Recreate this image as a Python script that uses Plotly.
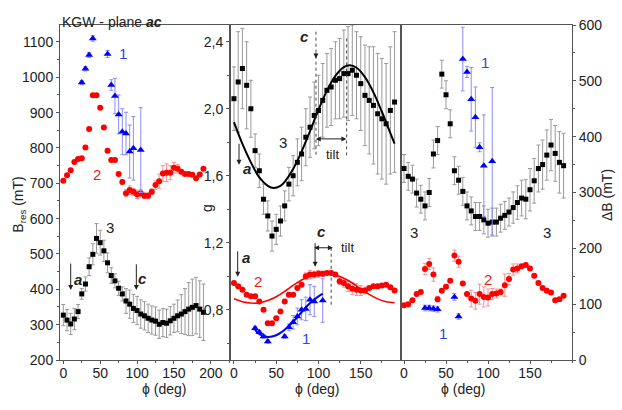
import plotly.graph_objects as go

# angles (deg)
phi = [0, 5, 10, 15, 20, 25, 30, 35, 40, 45, 50, 55, 60, 65, 70, 75, 80, 85, 90, 95,
       100, 105, 110, 115, 120, 125, 130, 135, 140, 145, 150, 155, 160, 165, 170, 175,
       180, 185, 190]
phi_1 = [25, 30, 35, 40, 60, 65, 70, 75, 80, 85, 90, 95, 105]

# panel 1: B_res (mT)
bres_1 = [985, 1024, 1063, 1110, 1066, 978, 947, 895, 846, 841, 790, 799, 794]
bres_1_err = [6, 6, 7, 8, 10, 15, 50, 55, 65, 60, 75, 90, 120]
bres_2 = [707, 723, 737, 760, 769, 771, 801, 854, 949, 949, 914, 858, 792, 766, 766, 726,
          704, 672, 681, 676, 669, 672, 665, 665, 676, 695, 706, 728, 730, 730, 744, 741,
          733, 726, 726, 724, 714, 725, 741]
bres_2_err = [4, 4, 4, 4, 4, 4, 4, 4, 4, 4, 4, 4, 4, 4, 4, 4, 6, 10, 12, 10, 12, 10, 8, 8,
              8, 12, 20, 22, 25, 20, 15, 12, 6, 4, 4, 4, 4, 4, 4]
bres_3 = [327, 313, 302, 316, 337, 387, 415, 464, 499, 544, 532, 509, 475, 439, 424, 403,
          387, 367, 358, 346, 340, 330, 325, 318, 313, 310, 301, 306, 304, 311, 318, 325,
          330, 337, 344, 349, 354, 344, 335]
bres_3_err = [30, 30, 30, 30, 20, 15, 20, 25, 30, 42, 35, 30, 28, 22, 20, 20, 20, 35, 40,
              40, 40, 40, 40, 40, 40, 40, 40, 40, 40, 40, 40, 45, 55, 65, 75, 80, 80, 80, 80]

# panel 2: g
g_1 = [0.69, 0.665, 0.64, 0.61, 0.64, 0.695, 0.725, 0.76, 0.80, 0.805, 0.86, 0.85, 0.855]
g_1_err = [0.01, 0.01, 0.01, 0.01, 0.01, 0.02, 0.04, 0.05, 0.06, 0.07, 0.09, 0.09, 0.13]
g_2 = [0.96, 0.94, 0.92, 0.89, 0.88, 0.88, 0.85, 0.80, 0.72, 0.72, 0.75, 0.79, 0.85, 0.89,
       0.89, 0.93, 0.95, 1.00, 1.01, 1.01, 1.015, 1.015, 1.02, 1.02, 1.01, 0.97, 0.96,
       0.94, 0.925, 0.92, 0.915, 0.915, 0.93, 0.94, 0.94, 0.945, 0.95, 0.935, 0.915]
g_2_err = [0.005, 0.005, 0.005, 0.005, 0.005, 0.005, 0.005, 0.005, 0.005, 0.005, 0.005,
           0.005, 0.005, 0.005, 0.005, 0.005, 0.005, 0.02, 0.025, 0.02, 0.02, 0.015, 0.01,
           0.005, 0.005, 0.02, 0.025, 0.03, 0.035, 0.035, 0.03, 0.02, 0.005, 0.005, 0.005,
           0.005, 0.005, 0.005, 0.005]
g_3 = [2.06, 2.16, 2.24, 2.14, 2.00, 1.75, 1.63, 1.46, 1.36, 1.24, 1.28, 1.33, 1.42, 1.55,
       1.60, 1.68, 1.73, 1.83, 1.89, 1.96, 1.99, 2.05, 2.11, 2.13, 2.17, 2.18, 2.21, 2.21,
       2.23, 2.20, 2.15, 2.08, 2.05, 2.02, 1.97, 1.94, 1.91, 1.99, 2.04]
g_3_err = [0.19, 0.30, 0.24, 0.26, 0.17, 0.10, 0.10, 0.09, 0.09, 0.09, 0.09, 0.09, 0.09,
           0.10, 0.12, 0.14, 0.16, 0.17, 0.18, 0.20, 0.21, 0.22, 0.22, 0.23, 0.23, 0.24,
           0.26, 0.28, 0.27, 0.26, 0.28, 0.30, 0.32, 0.35, 0.36, 0.36, 0.36, 0.38, 0.42]

# fitted curves
fit_1_phi = [25, 30, 35, 40, 45, 50, 55, 60, 70, 80, 90, 100, 105]
fit_1_g = [0.68, 0.655, 0.643, 0.638, 0.640, 0.648, 0.662, 0.68, 0.728, 0.785, 0.840,
           0.880, 0.896]
fit_2_phi = [0, 10, 20, 30, 40, 50, 60, 70, 80, 90, 100, 110, 120, 130, 140, 150, 160,
             170, 180, 190]
fit_2_g = [0.865, 0.848, 0.840, 0.841, 0.855, 0.878, 0.910, 0.945, 0.978, 1.002, 1.014,
           1.016, 1.008, 0.988, 0.960, 0.925, 0.892, 0.865, 0.848, 0.842]
fit_3_phi = [0, 10, 20, 30, 40, 47, 55, 60, 70, 80, 90, 100, 110, 120, 130, 137, 145, 155,
             165, 175, 185, 190]
fit_3_g = [1.92, 1.79, 1.68, 1.59, 1.54, 1.527, 1.54, 1.564, 1.64, 1.744, 1.867, 1.994,
           2.108, 2.196, 2.248, 2.259, 2.245, 2.189, 2.098, 1.982, 1.855, 1.792]

# panel 3: linewidth dB (mT)
db_1 = [93, 93, 92, 91, 113, 78, 539, 516, 467, 435, 381, 348, 356]
db_1_err = [5, 5, 5, 5, 6, 5, 57, 10, 57, 54, 8, 91, 132]
db_2 = [98, 100, 107, 118, 122, 163, 172, 153, 109, 124, 131, 142, 187, 176, 137, 118,
        110, 106, 118, 113, 112, 118, 119, 122, 134, 145, 162, 164, 168, 170, 164, 151,
        138, 129, 124, 121, 107, 109, 115]
db_2_err = [3, 3, 3, 3, 3, 10, 10, 12, 5, 3, 3, 3, 10, 10, 3, 3, 15, 15, 18, 18, 15, 10,
            8, 5, 20, 10, 10, 8, 3, 3, 3, 3, 3, 3, 3, 3, 3, 3, 3]
db_3 = [343, 329, 324, 299, 288, 276, 300, 369, 393, 512, 475, 423, 339, 322, 302, 276,
        267, 257, 257, 251, 245, 247, 247, 254, 259, 265, 273, 282, 290, 288, 305, 321,
        343, 350, 367, 385, 370, 354, 348]
db_3_err = [25, 25, 25, 25, 25, 25, 25, 25, 25, 25, 25, 25, 25, 25, 25, 25, 25, 25, 25,
            25, 25, 25, 25, 25, 25, 25, 28, 30, 32, 35, 38, 40, 42, 44, 45, 46, 50, 55, 58]

BLUE = '#0000ff'
RED = '#ff0000'
BLACK = '#000000'
FONT = 'Liberation Sans, Arial, sans-serif'


def pts(x, y, err, color, ecolor, symbol, size, xa, ya):
    return go.Scatter(x=x, y=y, mode='markers', xaxis=xa, yaxis=ya,
                      marker=dict(color=color, symbol=symbol, size=size),
                      error_y=dict(type='data', array=err, color=ecolor,
                                   thickness=1, width=2),
                      showlegend=False)


def fit(x, y, color, width, xa, ya):
    return go.Scatter(x=x, y=y, mode='lines', xaxis=xa, yaxis=ya,
                      line=dict(color=color, width=width, shape='spline'),
                      showlegend=False)


fig = go.Figure()
# panel 1
fig.add_trace(pts(phi, bres_3, bres_3_err, BLACK, '#999999', 'square', 5, 'x', 'y'))
fig.add_trace(pts(phi, bres_2, bres_2_err, RED, '#ff8c8c', 'circle', 6, 'x', 'y'))
fig.add_trace(pts(phi_1, bres_1, bres_1_err, BLUE, '#8c8cff', 'triangle-up', 7, 'x', 'y'))
# panel 2
fig.add_trace(pts(phi, g_3, g_3_err, BLACK, '#999999', 'square', 5, 'x2', 'y2'))
fig.add_trace(pts(phi, g_2, g_2_err, RED, '#ff8c8c', 'circle', 6, 'x2', 'y2'))
fig.add_trace(pts(phi_1, g_1, g_1_err, BLUE, '#8c8cff', 'triangle-up', 7, 'x2', 'y2'))
fig.add_trace(fit(fit_3_phi, fit_3_g, BLACK, 2, 'x2', 'y2'))
fig.add_trace(fit(fit_2_phi, fit_2_g, RED, 1.6, 'x2', 'y2'))
fig.add_trace(fit(fit_1_phi, fit_1_g, BLUE, 2, 'x2', 'y2'))
# panel 3
fig.add_trace(pts(phi, db_3, db_3_err, BLACK, '#999999', 'square', 5, 'x3', 'y3'))
fig.add_trace(pts(phi, db_2, db_2_err, RED, '#ff8c8c', 'circle', 6, 'x3', 'y3'))
fig.add_trace(pts(phi_1, db_1, db_1_err, BLUE, '#8c8cff', 'triangle-up', 7, 'x3', 'y3'))

ax_common = dict(showline=True, linecolor='#555555', linewidth=1, mirror=True,
                 ticks='outside', ticklen=3, tickcolor='#555555', showgrid=False,
                 zeroline=False, tickfont=dict(size=14, color='#222222'))
xminor = dict(ticklen=2, dtick=25, tickcolor='#555555', ticks='outside')

fig.update_layout(
    width=622, height=410,
    margin=dict(l=60, r=50, t=25, b=50),
    paper_bgcolor='white', plot_bgcolor='white',
    font=dict(family=FONT, size=14, color='#222222'),
    xaxis=dict(domain=[0, 0.332], range=[-4.5, 226], dtick=50, tick0=0,
               minor=xminor, anchor='y', ticklabelstandoff=-3, **ax_common),
    xaxis2=dict(domain=[0.332, 0.666], range=[-4.7, 197.6], dtick=50, tick0=0,
                minor=xminor, anchor='y2', ticklabelstandoff=-3, **ax_common),
    xaxis3=dict(domain=[0.666, 1], range=[-3.6, 200], tickvals=[0, 50, 100, 150],
                minor=xminor, anchor='y3', ticklabelstandoff=-3, **ax_common),
    yaxis=dict(range=[200, 1148], dtick=100, tick0=200, anchor='x',
               minor=dict(ticklen=2, dtick=50, tickcolor='#555555', ticks='outside'),
               **ax_common),
    yaxis2=dict(range=[0.5, 2.5], tickvals=[0.8, 1.2, 1.6, 2.0, 2.4],
                ticktext=['0,8', '1,2', '1,6', '2,0', '2,4'], anchor='x2',
                minor=dict(ticklen=2, dtick=0.2, tick0=0.6, tickcolor='#555555',
                           ticks='outside'),
                **ax_common),
    yaxis3=dict(range=[0, 600], dtick=100, anchor='x3', side='right',
                minor=dict(ticklen=2, dtick=50, tickcolor='#555555', ticks='outside'),
                **ax_common),
)

ann = []


def txt(x, y, s, color='#222222', xref='x', yref='y', size=15, **kw):
    ann.append(dict(x=x, y=y, xref=xref, yref=yref, text=s, showarrow=False,
                    font=dict(size=size, color=color), **kw))


def arrow(x, y, ax, ay, xref, yref, side='end', color='#222222'):
    ann.append(dict(x=x, y=y, ax=ax, ay=ay, xref=xref, yref=yref, axref=xref,
                    ayref=yref, text='', showarrow=True, arrowhead=2, arrowsize=1,
                    arrowwidth=1, arrowcolor=color, arrowside=side))


# titles
txt(0, 1.04, 'KGW - plane <b><i>ac</i></b>', xref='paper', yref='paper', size=14,
    xanchor='left')
txt(-0.102, 0.463, 'B<sub>res</sub> (mT)', xref='paper', yref='paper', size=14,
    textangle=-90)
txt(0.2676, 0.454, 'g', xref='paper', yref='paper', size=14, textangle=-90)
txt(1.088, 0.4925, 'ΔB (mT)', xref='paper', yref='paper', size=14, textangle=-90)
for px in [0.156, 0.502, 0.834]:
    txt(px, -0.115, 'ϕ (deg)', xref='paper', yref='paper', size=14)

# panel 1 labels
txt(81, 1066, '1', color='#3344dd')
txt(45, 726, '2', color='#ee2222')
txt(63, 576, '3')
txt(20, 429, '<b><i>a</i></b>')
arrow(10, 398, 10, 477, 'x', 'y')
txt(108, 432, '<b><i>c</i></b>')
arrow(99, 398, 99, 475, 'x', 'y')

# panel 2 labels, upper
txt(84, 2.43, '<b><i>c</i></b>', xref='x2', yref='y2')
txt(58, 1.80, '3', xref='x2', yref='y2')
txt(117, 1.725, 'tilt', xref='x2', yref='y2', size=13)
txt(15, 1.646, '<b><i>a</i></b>', xref='x2', yref='y2')
arrow(6, 1.665, 6, 1.80, 'x2', 'y2')
arrow(97, 2.30, 97, 2.34, 'x2', 'y2')
arrow(133, 1.82, 95, 1.82, 'x2', 'y2', side='end+start')
# panel 2 labels, lower
txt(14, 1.11, '<b><i>a</i></b>', xref='x2', yref='y2')
arrow(4.4, 0.997, 4.4, 1.158, 'x2', 'y2')
txt(28, 0.967, '2', color='#ee2222', xref='x2', yref='y2')
txt(103, 1.27, '<b><i>c</i></b>', xref='x2', yref='y2')
arrow(96, 1.057, 96, 1.206, 'x2', 'y2')
arrow(117, 1.17, 93, 1.17, 'x2', 'y2', side='end+start')
txt(124, 1.17, 'tilt', xref='x2', yref='y2', size=13, xanchor='left')
txt(85, 0.627, '1', color='#3344dd', xref='x2', yref='y2')

# panel 3 labels
txt(96, 532, '1', color='#3344dd', xref='x3', yref='y3')
txt(12, 229, '3', xref='x3', yref='y3')
txt(170, 229, '3', xref='x3', yref='y3')
txt(100, 145, '2', color='#ee2222', xref='x3', yref='y3')
txt(47, 47, '1', color='#3344dd', xref='x3', yref='y3')

fig.update_layout(annotations=ann)

# dashed guide lines for the tilt
shapes = [
    dict(type='line', xref='x2', yref='y2', x0=97, x1=97, y0=2.46, y1=1.72,
         line=dict(color='#444444', width=1, dash='dot')),
    dict(type='line', xref='x2', yref='y2', x0=133.3, x1=133.3, y0=2.42, y1=1.715,
         line=dict(color='#444444', width=1, dash='dot')),
    dict(type='line', xref='x2', yref='y2', x0=115, x1=115, y0=1.17, y1=0.83,
         line=dict(color='#444444', width=1, dash='dot')),
]
fig.update_layout(shapes=shapes)

# page margin would shift the fixed-size figure by 8px
fig.write_html("out.html", config={'displayModeBar': False},
               post_script="document.body.style.margin='0';")
